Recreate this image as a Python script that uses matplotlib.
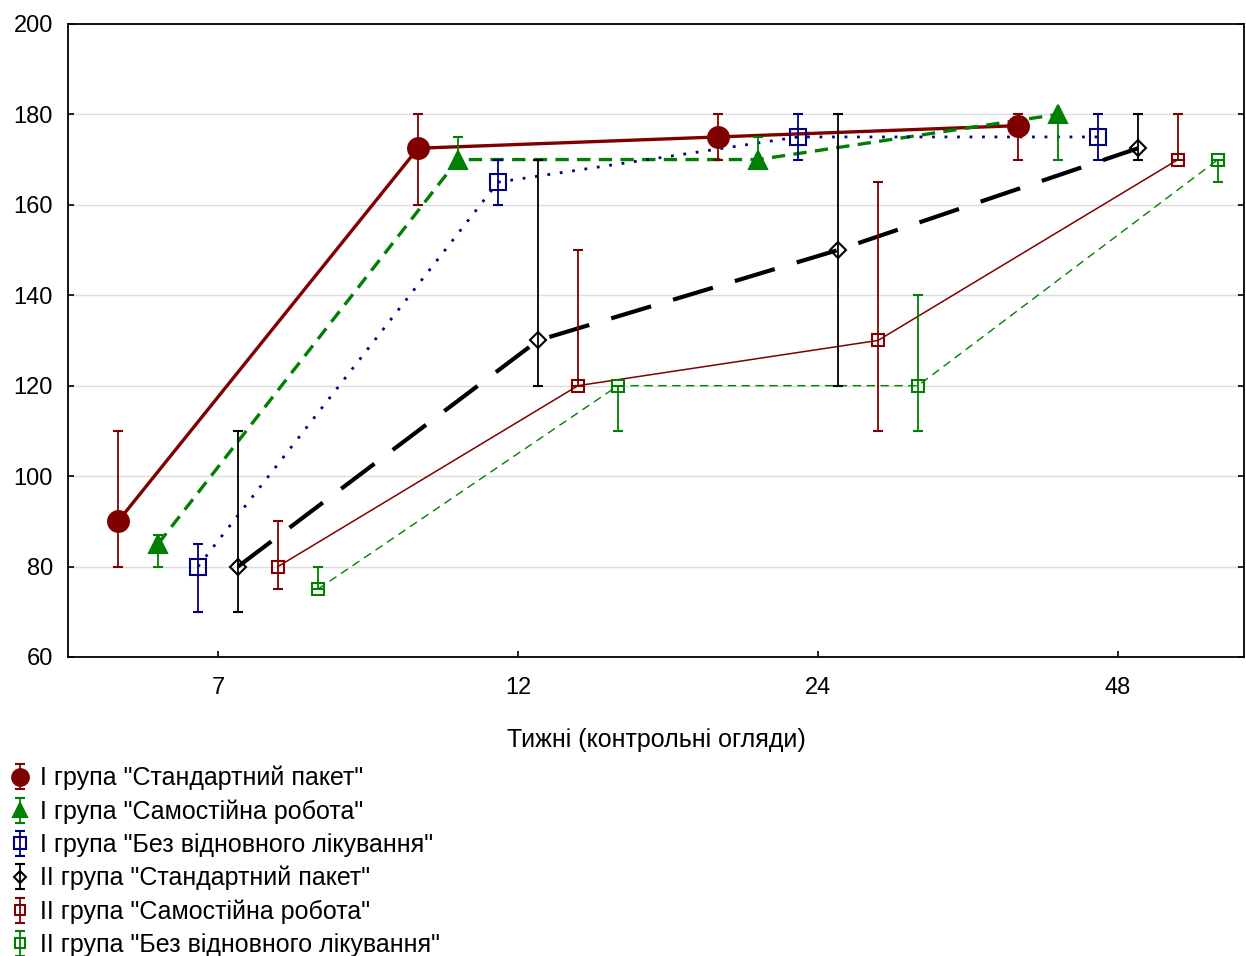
import matplotlib.pyplot as plt
import numpy as np

plt.rcParams['font.family'] = ['Liberation Sans', 'DejaVu Sans']

# categories (weeks)
weeks = ['7', '12', '24', '48']

labels = [
    'I група "Стандартний пакет"',
    'I група "Самостійна робота"',
    'I група "Без відновного лікування"',
    'II група "Стандартний пакет"',
    'II група "Самостійна робота"',
    'II група "Без відновного лікування"',
]

# means and error ranges (low, high)
s1_mean = [90, 172.5, 175, 177.5]
s1_low = [80, 160, 170, 170]
s1_high = [110, 180, 180, 180]

s2_mean = [85, 170, 170, 180]
s2_low = [80, 170, 170, 170]
s2_high = [87, 175, 175, 180]

s3_mean = [80, 165, 175, 175]
s3_low = [70, 160, 170, 170]
s3_high = [85, 170, 180, 180]

s4_mean = [80, 130, 150, 172.5]
s4_low = [70, 120, 120, 170]
s4_high = [110, 170, 180, 180]

s5_mean = [80, 120, 130, 170]
s5_low = [75, 120, 110, 170]
s5_high = [90, 150, 165, 180]

s6_mean = [75, 120, 120, 170]
s6_low = [75, 110, 110, 165]
s6_high = [80, 120, 140, 170]

means = [s1_mean, s2_mean, s3_mean, s4_mean, s5_mean, s6_mean]
lows = [s1_low, s2_low, s3_low, s4_low, s5_low, s6_low]
highs = [s1_high, s2_high, s3_high, s4_high, s5_high, s6_high]

styles = [
    dict(color='#800000', marker='o', ms=15, mfc='#800000', lw=2.4, ls='-'),
    dict(color='#008000', marker='^', ms=13, mfc='#008000', lw=2.4, ls=(0, (4, 2.5))),
    dict(color='#000080', marker='s', ms=11.5, mfc='none', lw=2.0, ls=(0, (1, 3.5))),
    dict(color='black', marker='D', ms=8, mfc='none', lw=3.0, ls=(0, (10, 5.5))),
    dict(color='#800000', marker='s', ms=8.5, mfc='none', lw=1.1, ls='-'),
    dict(color='#008000', marker='s', ms=8.5, mfc='none', lw=1.0, ls=(0, (6, 4))),
]

offsets = np.array([-1, -0.6, -0.2, 0.2, 0.6, 1.0]) / 3.0

fig = plt.figure(figsize=(12.46, 9.56), dpi=100)
ax = fig.add_axes([0.0546, 0.3128, 0.9438, 0.6622])

x = np.arange(1, len(weeks) + 1)
handles = []
for i in range(6):
    st = styles[i]
    m = np.array(means[i])
    yerr = [m - np.array(lows[i]), np.array(highs[i]) - m]
    xi = x + offsets[i]
    ax.plot(xi, m, color=st['color'], lw=st['lw'], ls=st['ls'], zorder=2)
    h = ax.errorbar(xi, m, yerr=yerr, fmt=st['marker'], ls='none',
                    color=st['color'], ms=st['ms'], mfc=st['mfc'],
                    mec=st['color'], mew=1.5, elinewidth=1.3,
                    capsize=3.5, capthick=1.3, zorder=3)
    handles.append(h)

ax.set_xlim(0.5, 4.42)
ax.set_ylim(60, 200)
ax.set_yticks(np.arange(60, 201, 20))
ax.set_xticks(x)
ax.set_xticklabels(weeks)
ax.grid(axis='y', color='#dddddd', lw=1.0)
ax.set_axisbelow(True)
ax.tick_params(axis='both', labelsize=17, length=4, width=1.2,
               color='black', direction='in')
ax.tick_params(axis='y', right=True, pad=11)
ax.tick_params(axis='x', pad=14.5)
for sp in ax.spines.values():
    sp.set_linewidth(1.3)
ax.set_xlabel('Тижні (контрольні огляди)', fontsize=18, labelpad=21)

fig.legend(handles, labels, loc='upper left', bbox_to_anchor=(0.003, 0.204),
           frameon=False, fontsize=18, handlelength=0.9, handletextpad=0.35,
           labelspacing=0.36, borderaxespad=0, borderpad=0.2, markerscale=0.8)

fig.savefig('out.png', dpi=100)
